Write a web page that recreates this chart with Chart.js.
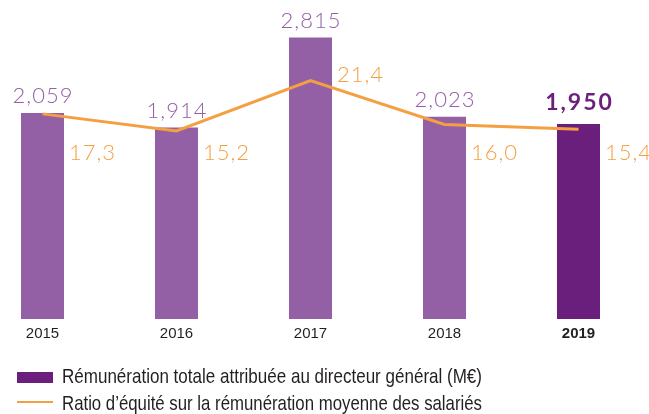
<!DOCTYPE html>
<html><head><meta charset="utf-8">
<script src="https://cdn.jsdelivr.net/npm/chart.js@4.4.0/dist/chart.umd.min.js"></script>
<style>
html,body{margin:0;padding:0;background:#fff;}
#wrap{position:relative;width:649px;height:414px;overflow:hidden;background:#fff}
#c{position:absolute;left:0;top:0}
.lg{position:absolute;left:62px;font-family:'Liberation Sans',Arial,sans-serif;font-size:21px;line-height:21px;color:#231f20;white-space:nowrap;transform-origin:0 0}
.sw{position:absolute;left:17px;width:36px}
</style></head><body>
<div id="wrap">
<canvas id="c" width="649" height="414"></canvas>
<div class="sw" id="sw0"></div><div class="lg" id="lg0"></div>
<div class="sw" id="sw1"></div><div class="lg" id="lg1"></div>
</div>
<script>
const years = ['2015', '2016', '2017', '2018', '2019'];
const remuneration = [2.059, 1.914, 2.815, 2.023, 1.950];
const equityRatio = [17.3, 15.2, 21.4, 16.0, 15.4];
const seriesLabels = ['Rémunération totale attribuée au directeur général (M€)', 'Ratio d’équité sur la rémunération moyenne des salariés'];
const highlightIndex = 4;

const barColor = '#9360a6';
const barHighlight = '#6b1f7c';
const orange = '#f4a042';
const tickColor = '#231f20';

const fmt = (v, d) => v.toFixed(d).replace('.', ',');

const valueLabels = {
  id: 'valueLabels',
  afterDatasetsDraw(chart) {
    const ctx = chart.ctx;
    const lineMeta = chart.getDatasetMeta(0);
    const barMeta = chart.getDatasetMeta(1);
    const maxRatio = Math.max(...equityRatio);
    ctx.save();
    barMeta.data.forEach((bar, i) => {
      const hl = i === highlightIndex;
      const ls = hl ? 2 : 1;
      ctx.font = (hl ? '700 23px' : '300 22px') + ' Lato, sans-serif';
      ctx.letterSpacing = ls + 'px';
      ctx.fillStyle = hl ? barHighlight : barColor;
      ctx.textAlign = 'center';
      ctx.textBaseline = 'alphabetic';
      ctx.fillText(fmt(remuneration[i], 3), bar.x + ls / 2, bar.y - (hl ? 14 : 10));
    });
    lineMeta.data.forEach((pt, i) => {
      const bar = barMeta.data[i];
      const x = bar.x + bar.width / 2 + 5;
      const y = equityRatio[i] === maxRatio ? pt.y + 1 : chart.chartArea.top + 141;
      ctx.font = '300 22px Lato, sans-serif';
      ctx.letterSpacing = '1px';
      ctx.fillStyle = orange;
      ctx.textAlign = 'left';
      ctx.textBaseline = 'alphabetic';
      ctx.fillText(fmt(equityRatio[i], 1), x, y);
    });
    ctx.restore();
  }
};

const chart = new Chart(document.getElementById('c'), {
  data: {
    labels: years,
    datasets: [
      {
        type: 'line',
        label: seriesLabels[1],
        data: equityRatio,
        yAxisID: 'y1',
        borderColor: orange,
        borderWidth: 3,
        pointRadius: 0,
        tension: 0,
        order: 0,
        clip: false
      },
      {
        type: 'bar',
        label: seriesLabels[0],
        data: remuneration,
        yAxisID: 'y',
        backgroundColor: years.map((_, i) => i === highlightIndex ? barHighlight : barColor),
        categoryPercentage: 1,
        barPercentage: 43 / 134,
        order: 1,
        clip: false
      }
    ]
  },
  options: {
    responsive: false,
    animation: false,
    devicePixelRatio: 1,
    layout: { padding: { top: 19, left: 42.5, right: 70.5, bottom: 69 } },
    plugins: { legend: { display: false }, tooltip: { enabled: false } },
    scales: {
      x: {
        offset: false,
        grid: { display: false, drawTicks: false },
        border: { display: false },
        afterFit(scale) { scale.height = 26; },
        ticks: {
          padding: 6,
          color: tickColor,
          maxRotation: 0,
          autoSkip: false,
          font: (c) => ({ family: "'Liberation Sans', Arial, sans-serif", size: 15, weight: c.index === highlightIndex ? 'bold' : 'normal' })
        }
      },
      y: { display: false, min: 0, max: 3 },
      y1: { display: false, min: -8, max: 29 }
    }
  },
  plugins: [valueLabels]
});

// legend built from the chart's datasets
const legendRows = [
  { ds: chart.data.datasets[1], sw: 'sw0', lg: 'lg0', swTop: 372, swH: 11, txtTop: 365, color: barHighlight, width: 420 },
  { ds: chart.data.datasets[0], sw: 'sw1', lg: 'lg1', swTop: 401, swH: 2, txtTop: 392, color: orange, width: 420 }
];
legendRows.forEach(r => {
  const sw = document.getElementById(r.sw);
  sw.style.top = r.swTop + 'px';
  sw.style.height = r.swH + 'px';
  sw.style.background = r.color;
  const lg = document.getElementById(r.lg);
  lg.style.top = r.txtTop + 'px';
  lg.textContent = r.ds.label;
  const w = lg.getBoundingClientRect().width;
  lg.style.transform = 'scaleX(' + (r.width / w) + ')';
});
</script>
</body></html>
